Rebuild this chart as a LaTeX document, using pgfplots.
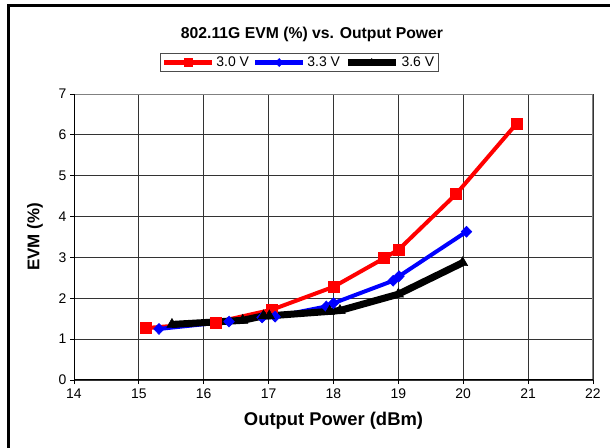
\documentclass[border=0pt]{standalone}
\usepackage{fontspec}
\setmainfont{Liberation Sans}
\usepackage{pgfplots}
\pgfplotsset{compat=1.18}

\pgfplotstableread{
x y
15.11 1.27
16.18 1.41
17.05 1.72
18.00 2.28
18.78 2.98
19.01 3.20
19.89 4.55
20.82 6.27
}\vthree

\pgfplotstableread{
x y
15.31 1.25
16.39 1.43
16.90 1.53
17.10 1.55
17.89 1.80
18.00 1.88
18.92 2.43
19.01 2.54
20.05 3.63
}\vthreethree

\pgfplotstableread{
x y
15.51 1.36
16.60 1.46
16.92 1.57
17.01 1.57
17.94 1.68
18.10 1.70
19.00 2.10
19.99 2.87
}\vthreesix

\begin{document}
\begin{tikzpicture}
\useasboundingbox (0bp,0bp) rectangle (610bp,448bp);
% outer frame (only top and left are inside the crop)
\draw[line width=3bp] (8.5bp,-5bp) -- (8.5bp,442.5bp) -- (615bp,442.5bp);
\node[font=\fontsize{15.8}{18}\selectfont\bfseries] at (312bp,414bp) {802.11G EVM (\%) vs. Output Power};
\begin{axis}[
  at={(74bp,68bp)}, anchor=south west, scale only axis,
  width=519bp, height=286bp,
  xmin=14, xmax=22, ymin=0, ymax=7,
  xtick={14,...,22}, ytick={0,...,7},
  grid=major,
  grid style={black!80, line width=0.8bp},
  axis line style={draw=none},
  tick pos=left, tick align=outside,
  major tick length=4bp,
  tick style={black, line width=0.8bp},
  /pgf/number format/assume math mode=true,
  ticklabel style={font=\fontsize{14}{16}\selectfont},
  xticklabel style={yshift=-1bp},
  xlabel={Output Power (dBm)},
  ylabel={EVM (\%)},
  xlabel style={font=\fontsize{18.5}{21}\selectfont\bfseries, at={(axis description cs:0.5,-0.143)}, anchor=center},
  ylabel style={font=\fontsize{17}{20}\selectfont\bfseries, at={(axis description cs:-0.075,0.5)}, anchor=center},
  legend columns=3,
  legend style={at={(axis description cs:0.4335,1.11)}, anchor=center,
    draw=black!70, fill=white,
    font=\fontsize{14}{16}\selectfont,
    inner xsep=2bp, inner ysep=1.5bp,
    /tikz/every even column/.append style={column sep=2bp}},
  legend cell align=left,
  legend image code/.code={\draw[#1,mark repeat=2,mark phase=2,mark size=4bp] plot coordinates {(0bp,0bp)(24bp,0bp)(48bp,0bp)};},
]
\addplot[red, line width=4bp, mark=square*, mark size=5.5bp, mark options={solid, line width=0.5bp},
  legend image post style={line width=4.5bp}] table {\vthree};
\addplot[blue, line width=4bp, mark=diamond*, mark size=5.5bp, mark options={solid, line width=0.5bp, xscale=1.3},
  legend image post style={line width=4.5bp}] table {\vthreethree};
\addplot[black, line width=7bp, mark=triangle*, mark size=6bp, mark options={solid, line width=0.5bp},
  legend image post style={line width=7.5bp}] table {\vthreesix};
\legend{3.0 V, 3.3 V, 3.6 V}
\draw[black!50, line width=1.5bp] (rel axis cs:0,1) -- (rel axis cs:1,1) -- (rel axis cs:1,0);
\draw[black, line width=1.5bp] (rel axis cs:0,1) -- (rel axis cs:0,0) -- (rel axis cs:1,0);
\end{axis}
\end{tikzpicture}
\end{document}
